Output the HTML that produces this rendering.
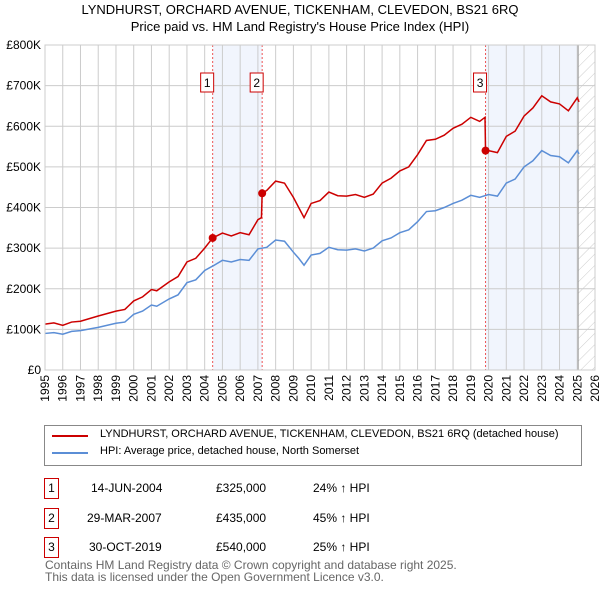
<!DOCTYPE html>
<html><head><meta charset="utf-8"><style>
body{margin:0;background:#fff;font-family:"Liberation Sans","DejaVu Sans",sans-serif;}
#wrap{position:relative;width:600px;height:590px;overflow:hidden}
.t{position:absolute;font-size:12px;color:#000;white-space:nowrap}
.box{position:absolute;border:1px solid #c00;width:13px;height:19px;font-size:12px;text-align:center;line-height:19px}
</style></head><body><div id="wrap">
<div class="t" style="left:0;width:600px;text-align:center;top:2px;font-size:13px">LYNDHURST, ORCHARD AVENUE, TICKENHAM, CLEVEDON, BS21 6RQ</div>
<div class="t" style="left:0;width:600px;text-align:center;top:19px;font-size:13px">Price paid vs. HM Land Registry's House Price Index (HPI)</div>
<svg id="chart" width="600" height="420" style="position:absolute;left:0;top:0"></svg>
<div style="position:absolute;left:44px;top:425px;width:536px;height:39px;border:1px solid #888"></div>
<div style="position:absolute;left:52px;top:435px;width:36px;height:2px;background:#c00"></div>
<div class="t" style="left:100px;top:428px;font-size:11px">LYNDHURST, ORCHARD AVENUE, TICKENHAM, CLEVEDON, BS21 6RQ (detached house)</div>
<div style="position:absolute;left:52px;top:452px;width:36px;height:2px;background:#5b8ed6"></div>
<div class="t" style="left:100px;top:445px;font-size:11px">HPI: Average price, detached house, North Somerset</div>
<div class="box" style="left:44px;top:478px">1</div>
<div class="t" style="left:91px;top:481px">14-JUN-2004</div>
<div class="t" style="left:216px;top:481px">£325,000</div>
<div class="t" style="left:313px;top:481px">24% ↑ HPI</div>
<div class="box" style="left:44px;top:508px">2</div>
<div class="t" style="left:87px;top:511px">29-MAR-2007</div>
<div class="t" style="left:216px;top:511px">£435,000</div>
<div class="t" style="left:313px;top:511px">45% ↑ HPI</div>
<div class="box" style="left:44px;top:537px">3</div>
<div class="t" style="left:89px;top:540px">30-OCT-2019</div>
<div class="t" style="left:216px;top:540px">£540,000</div>
<div class="t" style="left:313px;top:540px">25% ↑ HPI</div>
<div class="t" style="left:45px;top:559px;color:#666;line-height:12px">Contains HM Land Registry data © Crown copyright and database right 2025.<br>This data is licensed under the Open Government Licence v3.0.</div>
</div>
<script>
const yTicks=[0,100,200,300,400,500,600,700,800];
const yTickLabels=["£0","£100K","£200K","£300K","£400K","£500K","£600K","£700K","£800K"];
const xTicks=[1995,1996,1997,1998,1999,2000,2001,2002,2003,2004,2005,2006,2007,2008,2009,2010,2011,2012,2013,2014,2015,2016,2017,2018,2019,2020,2021,2022,2023,2024,2025,2026];
const hpiYears=[1995,1995.5,1996,1996.5,1997,1998,1999,1999.5,2000,2000.5,2001,2001.3,2002,2002.5,2003,2003.5,2004,2004.5,2005,2005.5,2006,2006.5,2007,2007.5,2008,2008.5,2009,2009.3,2009.6,2010,2010.5,2011,2011.5,2012,2012.5,2013,2013.5,2014,2014.5,2015,2015.5,2016,2016.5,2017,2017.5,2018,2018.5,2019,2019.5,2020,2020.5,2021,2021.5,2022,2022.5,2023,2023.5,2024,2024.5,2025,2025.1];
const hpiValues=[90,92,88,95,97,105,115,118,137,145,160,157,175,185,215,222,245,257,270,266,272,270,298,302,320,317,290,275,258,283,287,302,296,295,298,293,300,318,325,338,345,365,390,392,400,410,418,430,425,432,428,460,470,500,515,540,528,525,510,540,532];
const propYears=[1995,1995.5,1996,1996.5,1997,1998,1999,1999.5,2000,2000.5,2001,2001.3,2002,2002.5,2003,2003.5,2004,2004.45,2005,2005.5,2006,2006.5,2007,2007.2,2007.24,2007.5,2008,2008.5,2009,2009.3,2009.6,2010,2010.5,2011,2011.5,2012,2012.5,2013,2013.5,2014,2014.5,2015,2015.5,2016,2016.5,2017,2017.5,2018,2018.5,2019,2019.5,2019.8,2019.83,2020,2020.5,2021,2021.5,2022,2022.5,2023,2023.5,2024,2024.5,2025,2025.1];
const propValues=[113,116,110,118,120,133,145,149,170,180,198,195,217,230,266,275,300,325,337,330,338,333,370,375,435,442,465,460,425,400,375,410,417,438,429,428,432,425,433,460,472,490,500,530,565,568,578,595,605,622,612,622,540,540,535,575,588,625,645,675,660,655,638,670,660];
const sales=[{n:"1",year:2004.45,value:325},{n:"2",year:2007.24,value:435},{n:"3",year:2019.83,value:540}];
const NS="http://www.w3.org/2000/svg";
const svg=document.getElementById('chart');
const L=45,R=595,T=45,B=370;
const xs=y=>L+(y-1995)/(2026-1995)*(R-L);
const ys=v=>B-v/800*(B-T);
function mk(tag,attrs){const e=document.createElementNS(NS,tag);for(const k in attrs)e.setAttribute(k,attrs[k]);svg.appendChild(e);return e;}
// shading
let sh=mk('rect',{x:xs(sales[0].year),y:T,width:xs(sales[1].year)-xs(sales[0].year),height:B-T,fill:'#eef3fc',opacity:0.8});

let sh2=mk('rect',{x:xs(sales[2].year),y:T,width:xs(2025.05)-xs(sales[2].year),height:B-T,fill:'#eef3fc',opacity:0.8});

const defs=mk('defs',{});
defs.innerHTML='<pattern id="hatch" width="8" height="8" patternUnits="userSpaceOnUse" patternTransform="rotate(45)"><line x1="0" y1="0" x2="0" y2="8" stroke="#ccc" stroke-width="1"/></pattern>';
let hz=mk('rect',{x:xs(2025.05),y:T,width:R-xs(2025.05),height:B-T,fill:'url(#hatch)'});

// grid
yTicks.forEach((v,i)=>{
 let g=mk('line',{x1:L,x2:R,y1:ys(v),y2:ys(v),stroke:'#ccc','stroke-width':1});
 
 let t=mk('text',{x:L-4,y:ys(v)+4,'text-anchor':'end','font-size':12,'font-family':'Liberation Sans, sans-serif'});
 t.textContent=yTickLabels[i];
 
});
xTicks.forEach(yr=>{
 let g=mk('line',{x1:xs(yr),x2:xs(yr),y1:T,y2:B,stroke:'#ccc','stroke-width':1});
 
 let t=mk('text',{x:0,y:0,'text-anchor':'end','font-size':12,'font-family':'Liberation Sans, sans-serif',transform:`translate(${xs(yr)+4},${B+5}) rotate(-90)`});
 t.textContent=yr;
 
});
let nl=mk('line',{x1:xs(2025.05),x2:xs(2025.05),y1:T,y2:B,stroke:'#999','stroke-width':1});

sales.forEach(s=>{
 let l=mk('line',{x1:xs(s.year),x2:xs(s.year),y1:T,y2:B,stroke:'#e55','stroke-width':1,'stroke-dasharray':'2,2'});
 
 let b=mk('rect',{x:xs(s.year)-12,y:T+28,width:13,height:19,fill:'#fff',stroke:'#c00'});
 
 let t=mk('text',{x:xs(s.year)-5.5,y:T+42,'text-anchor':'middle','font-size':12,'font-family':'Liberation Sans, sans-serif'});
 t.textContent=s.n;
 
});
let hp=mk('polyline',{points:hpiYears.map((y,i)=>xs(y)+','+ys(hpiValues[i])).join(' '),fill:'none',stroke:'#5b8ed6','stroke-width':1.5});

let pp=mk('polyline',{points:propYears.map((y,i)=>xs(y)+','+ys(propValues[i])).join(' '),fill:'none',stroke:'#c00','stroke-width':1.5});

sales.forEach(s=>{
 let c=mk('circle',{cx:xs(s.year),cy:ys(s.value),r:4,fill:'#c00'});
 
});
let fr=mk('rect',{x:L,y:T,width:R-L,height:B-T,fill:'none',stroke:'#ccc'});

</script></body></html>
